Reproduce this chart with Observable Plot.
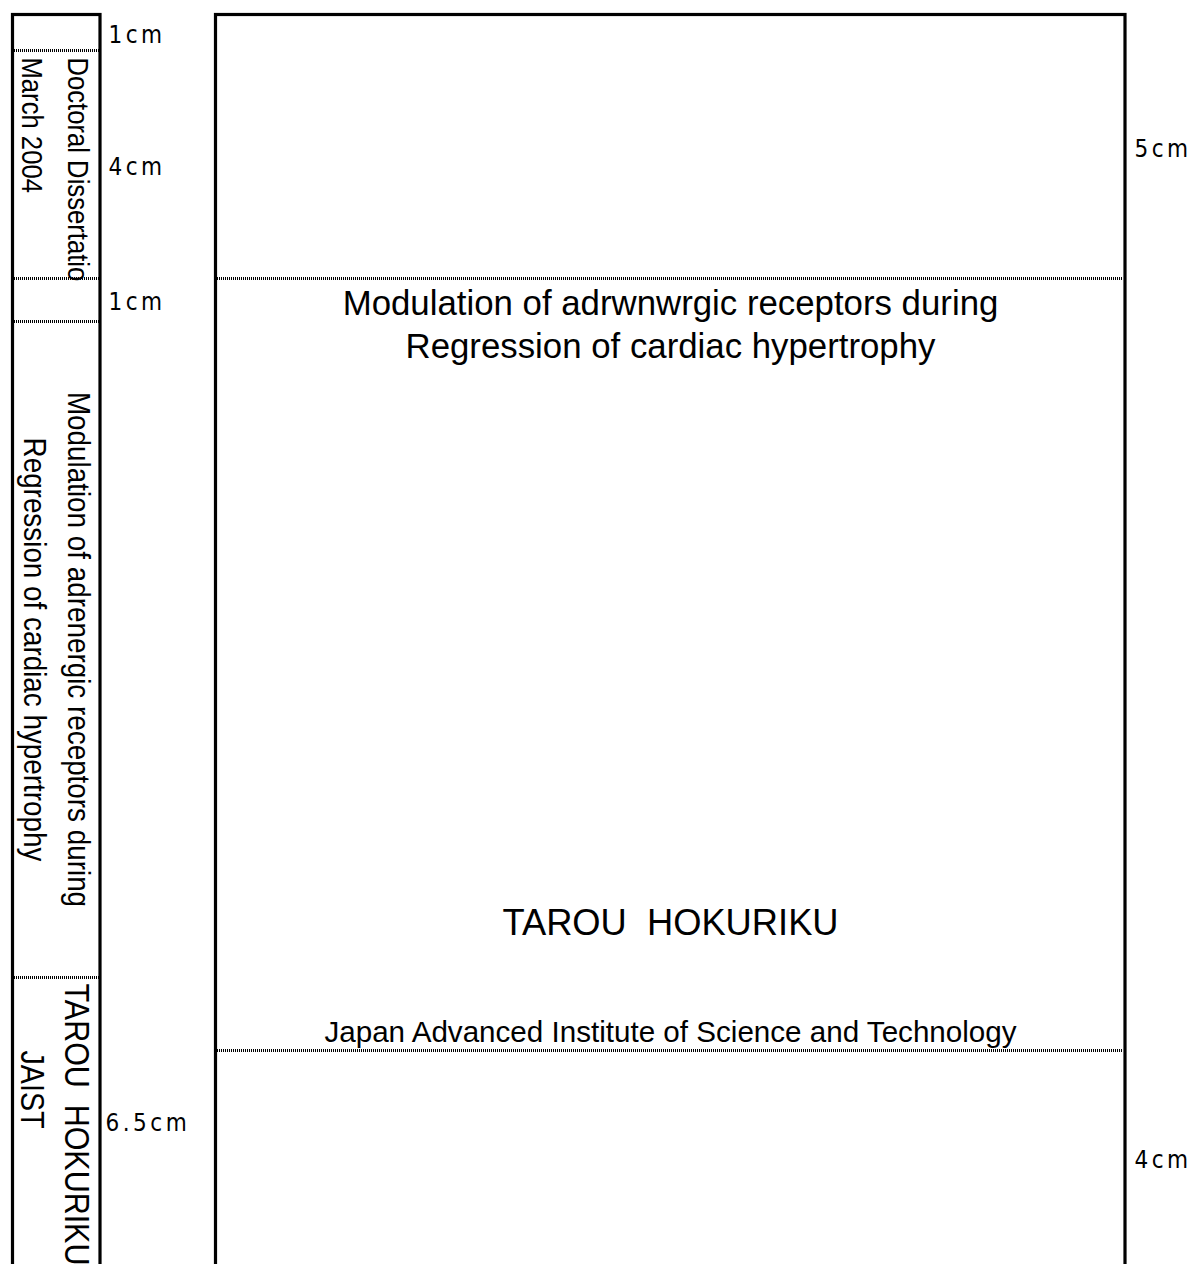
<!DOCTYPE html>
<html>
<head>
<meta charset="utf-8">
<script src="https://cdn.jsdelivr.net/npm/d3@7"></script>
<script src="https://cdn.jsdelivr.net/npm/@observablehq/plot@0.6"></script>
<style>
  html, body { margin: 0; padding: 0; background: #fff; overflow: hidden; }
</style>
</head>
<body>
<div id="chart"></div>
<script>
// ---- Layout values (diagram units = reference pixels) ----
const frameTop = 14.5;
const frameBottom = 1285;           // frames run off the bottom of the sheet
const spineFrame = [12.5, 100];     // left/right edge of the spine strip
const coverFrame = [215.5, 1125];   // left/right edge of the cover

const spineFolds = [50, 278, 321, 977];
const coverFolds = [278, 1050];

const spineUnitLabels = ["1cm", "4cm", "1cm", "6.5cm"];
const spineUnitY = [35, 167, 302, 1123];
const spineUnitX = [108, 108, 108, 105];

const coverUnitLabels = ["5cm", "4cm"];
const coverUnitY = [149, 1160];
const coverUnitX = [1134, 1134];

// spine texts (rotated, read top to bottom)
const spineHeader = ["Doctoral Dissertatio", "March 2004"];
const spineHeaderX = [77, 31];
const spineHeaderY = [57, 57];

const spineTitle = ["Modulation of adrenergic receptors during", "Regression of cardiac hypertrophy"];
const spineTitleX = [78, 34];
const spineTitleY = [649, 649];

const spineAuthor = ["TAROU  HOKURIKU"];
const spineAuthorX = [75.5];
const spineAuthorY = [983];

const spineSchool = ["JAIST"];
const spineSchoolX = [31.5];
const spineSchoolY = [1050];

// cover texts
const coverCenter = 670;
const coverTitle = ["Modulation of adrwnwrgic receptors during", "Regression of cardiac hypertrophy"];
const coverTitleY = [303, 346];
const coverAuthor = ["TAROU  HOKURIKU"];
const coverAuthorY = [923];
const coverInstitute = ["Japan Advanced Institute of Science and Technology"];
const coverInstituteY = [1032];

const W = 1191, H = 1264;
const sans = "Liberation Sans, Arial, Helvetica, sans-serif";
const narrow = "DejaVu Sans Condensed, Liberation Sans Narrow, sans-serif";

const svg = Plot.plot({
  width: W,
  height: H,
  margin: 0,
  x: {domain: [0, W], range: [0, W], axis: null},
  y: {domain: [0, H], range: [0, H], axis: null},
  marks: [
    // frames
    Plot.rect([0], {x1: spineFrame[0], x2: spineFrame[1], y1: frameTop, y2: frameBottom,
      fill: "none", stroke: "black", strokeWidth: 3.2}),
    Plot.rect([0], {x1: coverFrame[0], x2: coverFrame[1], y1: frameTop, y2: frameBottom,
      fill: "none", stroke: "black", strokeWidth: 3.2}),
    // dotted fold lines
    Plot.ruleY(spineFolds, {y: d => d, x1: 14, x2: 99,
      stroke: "black", strokeWidth: 2.5, strokeDasharray: "1,1", shapeRendering: "crispEdges"}),
    Plot.ruleY(coverFolds, {y: d => d, x1: 217, x2: 1123,
      stroke: "black", strokeWidth: 2.5, strokeDasharray: "1,1", shapeRendering: "crispEdges"}),
    // dimension labels
    Plot.text(spineUnitLabels, {x: (d, i) => spineUnitX[i], y: (d, i) => spineUnitY[i], text: d => d,
      textAnchor: "start", fontSize: 24, fontFamily: narrow, fill: "black"}),
    Plot.text(coverUnitLabels, {x: (d, i) => coverUnitX[i], y: (d, i) => coverUnitY[i], text: d => d,
      textAnchor: "start", fontSize: 24, fontFamily: narrow, fill: "black"}),
    // spine texts
    Plot.text(spineHeader, {x: (d, i) => spineHeaderX[i], y: (d, i) => spineHeaderY[i], text: d => d,
      rotate: 90, textAnchor: "start", fontSize: 29.5, fontFamily: sans, fill: "black"}),
    Plot.text(spineTitle, {x: (d, i) => spineTitleX[i], y: (d, i) => spineTitleY[i], text: d => d,
      rotate: 90, textAnchor: "middle", fontSize: 32, fontFamily: sans, fill: "black"}),
    Plot.text(spineAuthor, {x: (d, i) => spineAuthorX[i], y: (d, i) => spineAuthorY[i], text: d => d,
      rotate: 90, textAnchor: "start", fontSize: 35, fontFamily: sans, fill: "black"}),
    Plot.text(spineSchool, {x: (d, i) => spineSchoolX[i], y: (d, i) => spineSchoolY[i], text: d => d,
      rotate: 90, textAnchor: "start", fontSize: 33, fontFamily: sans, fill: "black"}),
    // cover texts
    Plot.text(coverTitle, {x: coverCenter, y: (d, i) => coverTitleY[i], text: d => d,
      textAnchor: "middle", fontSize: 34.8, fontFamily: sans, fill: "black"}),
    Plot.text(coverAuthor, {x: coverCenter, y: (d, i) => coverAuthorY[i], text: d => d,
      textAnchor: "middle", fontSize: 36.3, fontFamily: sans, fill: "black"}),
    Plot.text(coverInstitute, {x: coverCenter, y: (d, i) => coverInstituteY[i], text: d => d,
      textAnchor: "middle", fontSize: 29.6, fontFamily: sans, fill: "black"})
  ]
});

// spine lettering is condensed along its reading direction
d3.select(svg).selectAll("text").filter(function () {
  return /rotate/.test(this.getAttribute("transform") || "");
}).each(function () {
  this.setAttribute("transform", this.getAttribute("transform") + " scale(0.87,1)");
});
// dimension labels are letter-spaced
d3.select(svg).selectAll("text").filter(function () {
  return /cm$/.test(this.textContent);
}).style("letter-spacing", "3.5px");

document.getElementById("chart").appendChild(svg);
</script>
</body>
</html>
